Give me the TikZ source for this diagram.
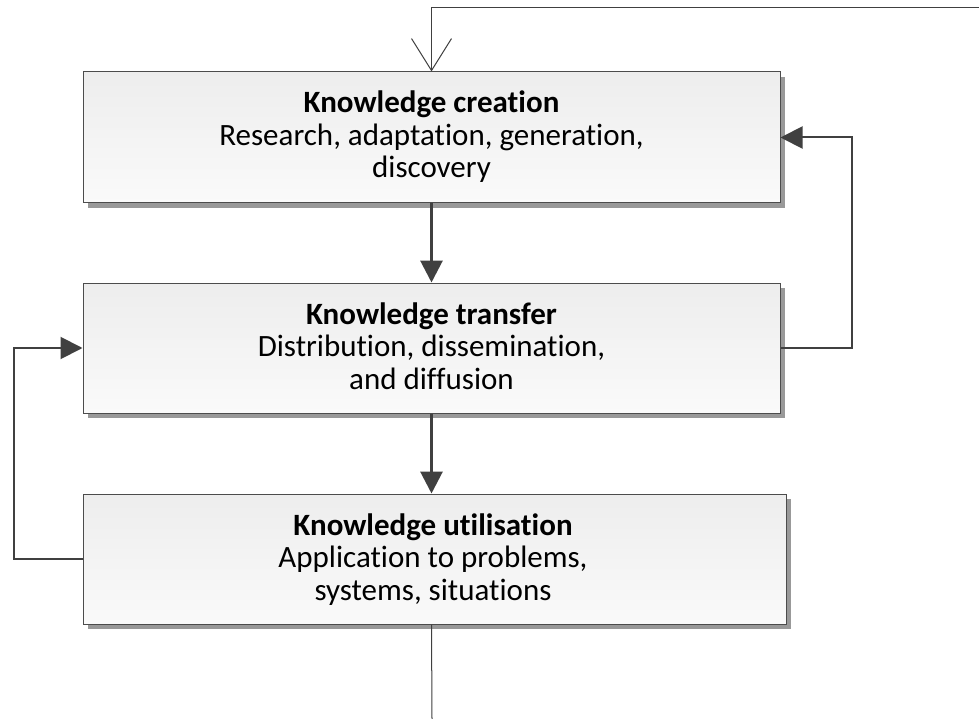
\documentclass[tikz,border=0pt]{standalone}
\usepackage{fontspec}
\setmainfont{Carlito}[Ligatures={NoCommon,NoContextual}]
\usetikzlibrary{arrows.meta,shadows}
\newcommand{\kbtext}[3]{\begin{tabular}[t]{@{}c@{}}\textbf{#1}\\#2\\#3\end{tabular}}
\tikzset{
  kbox/.style={draw=black!70, line width=1pt, rectangle,
    top color=black!7, bottom color=black!2,
    drop shadow={shadow xshift=5pt, shadow yshift=-5pt, fill=black!40, opacity=1},
    inner sep=0pt},
  ktext/.style={font=\fontsize{31}{32.5}\selectfont, inner sep=0pt, anchor=base},
  fwd/.style={draw=black!75, line width=3pt, -{Triangle[length=22pt,width=22pt]}},
  fb/.style={draw=black!75, line width=2pt, -{Triangle[length=22pt,width=22pt]}},
  thinline/.style={draw=black!75, line width=1pt}
}
\begin{document}
\begin{tikzpicture}[x=1pt,y=-1pt]
\useasboundingbox[fill=white] (0,0) rectangle (979,719);
\node[kbox, minimum width=697pt, minimum height=131pt] (b1) at (431.5,137.5) {};
\node[kbox, minimum width=697pt, minimum height=130pt] (b2) at (431.5,348) {};
\node[kbox, minimum width=703pt, minimum height=130pt] (b3) at (434.5,559) {};
\node[ktext] (t1) at (431.5,113) {\kbtext{Knowledge creation}{Research, adaptation, generation,}{discovery}};
\node[ktext] (t2) at (431.5,324) {\kbtext{Knowledge transfer}{Distribution, dissemination,}{and diffusion}};
\node[ktext] (t3) at (433,535) {\kbtext{Knowledge utilisation}{Application to problems,}{systems, situations}};
\coordinate (tr) at (979,8);
\coordinate (bot) at (432,719);
\draw[thinline, -{Straight Barb[length=32pt,width=40pt,line width=1pt]}] (tr) -| (b1.north);
\draw[fwd] (b1.south) -- (b1.south |- b2.north);
\draw[fwd] (b2.south) -- (b2.south |- b3.north);
\draw[fb] (b2.east) -- ++(71,0) |- (b1.east);
\draw[fb] (b3.west) -- ++(-69,0) |- (b2.west);
\draw[thinline] (b2.south |- b3.south) -- (bot);
\end{tikzpicture}
\end{document}
